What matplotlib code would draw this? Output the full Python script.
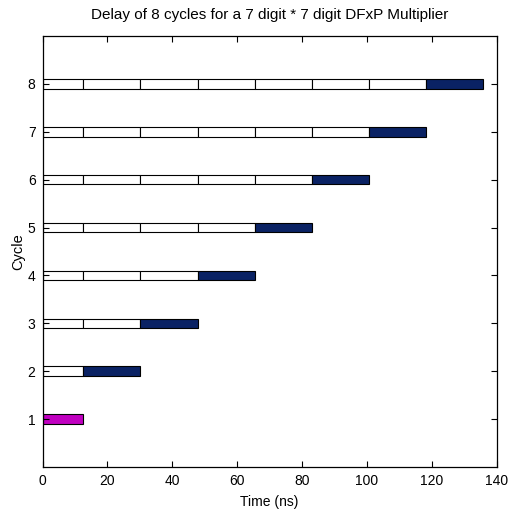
from matplotlib import pyplot as plt
import numpy as np

cycles = [1, 2, 3, 4, 5, 6, 7, 8]
first_stage_ns = 12.6
stage_ns = 17.6
title = "Delay of 8 cycles for a 7 digit * 7 digit DFxP Multiplier"

plt.rcParams['font.family'] = ['Liberation Sans', 'DejaVu Sans']

fig = plt.figure(figsize=(5.09, 5.11), dpi=100)
ax = fig.add_axes([0.0835, 0.0861, 0.8925, 0.8434])

bar_h = 0.2
for c in cycles:
    # stage widths for this cycle: first stage, then (c-1) stages of stage_ns
    widths = [first_stage_ns] + [stage_ns] * (c - 1)
    lefts = np.concatenate([[0], np.cumsum(widths)[:-1]])
    colors = ['white'] * len(widths)
    colors[-1] = '#c000c0' if c == 1 else '#0a2264'
    ax.barh([c] * len(widths), widths, left=lefts, height=bar_h,
            color=colors, edgecolor='black', linewidth=0.8)

ax.set_xlim(0, 140)
ax.set_ylim(0, 9)
ax.set_xticks(np.arange(0, 141, 20))
ax.set_yticks(cycles)
ax.tick_params(direction='in', top=True, right=True, labelsize=10, length=4, pad=5)
ax.set_xlabel("Time (ns)", fontsize=10, labelpad=5)
ax.set_ylabel("Cycle", fontsize=10.5, labelpad=2)
ax.set_title(title, fontsize=11, pad=12)
for s in ax.spines.values():
    s.set_linewidth(0.9)

fig.savefig("out.png", dpi=100)
